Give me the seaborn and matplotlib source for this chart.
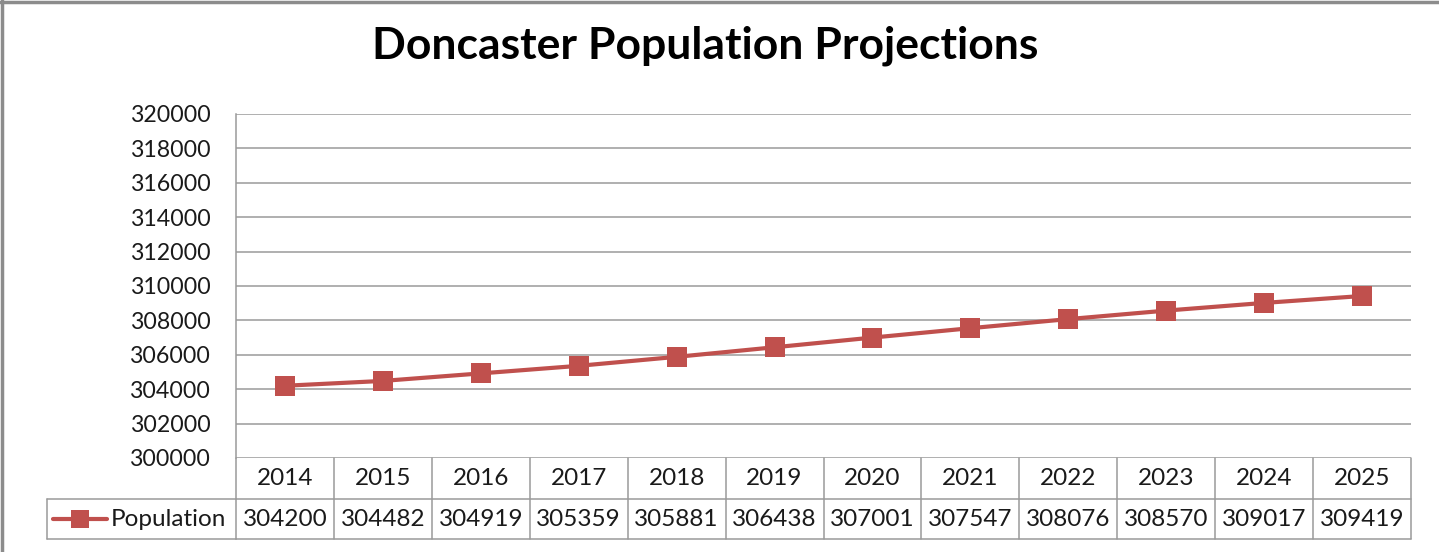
import matplotlib
matplotlib.use("Agg")
import matplotlib.pyplot as plt
import matplotlib.transforms as mtransforms
from matplotlib.lines import Line2D
import seaborn as sns
import pandas as pd

years = ["2014", "2015", "2016", "2017", "2018", "2019", "2020", "2021", "2022", "2023", "2024", "2025"]
population = [304200, 304482, 304919, 305359, 305881, 306438, 307001, 307547, 308076, 308570, 309017, 309419]
series_name = "Population"
title = "Doncaster Population Projections"
y_ticks = list(range(300000, 320001, 2000))

sns.set_theme(style="white")
plt.rcParams["font.family"] = ["Lato", "DejaVu Sans"]

W, H = 1439, 552
fig = plt.figure(figsize=(W / 100, H / 100), dpi=100)
L, R, T, B = 236, 1411, 114, 458
ax = fig.add_axes([L / W, 1 - B / H, (R - L) / W, (B - T) / H])

df = pd.DataFrame({"x": list(range(len(years))), "year": years, "value": population})
color = "#C0504D"
sns.lineplot(data=df, x="x", y="value", ax=ax, color=color, linewidth=3.0,
             marker="s", markersize=14, markeredgewidth=0, zorder=5)

ax.set_xlim(-0.5, len(years) - 0.5)
ax.set_ylim(y_ticks[0], y_ticks[-1])
ax.set_yticks(y_ticks)
ax.set_yticklabels([str(v) for v in y_ticks], fontsize=16.7, color="#1a1a1a")
ax.set_xticks([])
ax.set_xlabel("")
ax.set_ylabel("")
ax.tick_params(axis="y", length=0, pad=18.5)
ax.grid(axis="y", color="#9a9a9a", linewidth=1.1)
ax.grid(axis="x", visible=False)
for s in ["top", "right", "bottom"]:
    ax.spines[s].set_visible(False)
ax.spines["left"].set_color("#9a9a9a")
ax.spines["left"].set_linewidth(1.1)

# data table below the axes
tr = mtransforms.blended_transform_factory(ax.transData, ax.transAxes)
ph = B - T
r1 = -(499 - B) / ph
r2 = -(539 - B) / ph
lc = "#9a9a9a"
lw = 1.1
n = len(years)
fs_tab = 17.5
ax.add_line(Line2D([-0.5, n - 0.5], [r1, r1], transform=tr, color=lc, lw=lw, clip_on=False))
ax.add_line(Line2D([-0.5, n - 0.5], [r2, r2], transform=tr, color=lc, lw=lw, clip_on=False))
for i in range(n + 1):
    ax.add_line(Line2D([i - 0.5, i - 0.5], [0, r2], transform=tr, color=lc, lw=lw, clip_on=False))
for i, (yr, v) in enumerate(zip(years, population)):
    ax.text(i, r1 / 2, yr, transform=tr, ha="center", va="center", fontsize=fs_tab, color="#1a1a1a")
    ax.text(i, (r1 + r2) / 2, str(v), transform=tr, ha="center", va="center", fontsize=fs_tab, color="#1a1a1a")

# legend cell
ftr = fig.transFigure
lx0 = 47 / W
ylo = 1 - 539 / H
yhi = 1 - 499 / H
fig.add_artist(Line2D([lx0, L / W], [ylo, ylo], transform=ftr, color=lc, lw=lw))
fig.add_artist(Line2D([lx0, L / W], [yhi, yhi], transform=ftr, color=lc, lw=lw))
fig.add_artist(Line2D([lx0, lx0], [ylo, yhi], transform=ftr, color=lc, lw=lw))
ym = (ylo + yhi) / 2
fig.add_artist(Line2D([53 / W, 107 / W], [ym, ym], transform=ftr, color=color, lw=3.0))
fig.add_artist(Line2D([80 / W], [ym], transform=ftr, color=color, marker="s", markersize=13, markeredgewidth=0, lw=0))
fig.text(111 / W, ym, series_name, ha="left", va="center", fontsize=fs_tab, color="#1a1a1a")

# title
fig.text(705 / W, 1 - 46 / H, title, ha="center", va="center", fontsize=32, fontweight="bold", color="black")

# outer frame (top and left)
fc = "#8c8c8c"
fig.add_artist(Line2D([0, 1], [1 - 2 / H, 1 - 2 / H], transform=ftr, color=fc, lw=2.5))
fig.add_artist(Line2D([2 / W, 2 / W], [0, 1], transform=ftr, color=fc, lw=2.5))

fig.savefig("out.png", dpi=100, facecolor="white")
